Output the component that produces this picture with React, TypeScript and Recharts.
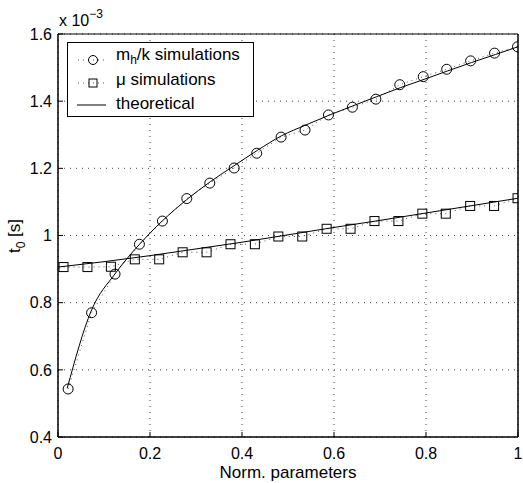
import React from 'react';
import { ComposedChart, Line, XAxis, YAxis, CartesianGrid, ReferenceArea } from 'recharts';

// values in units of 1e-3 s
const mhkX = [0.022, 0.073, 0.124, 0.177, 0.227, 0.28, 0.33, 0.383, 0.432, 0.485, 0.537, 0.588, 0.64, 0.691, 0.743, 0.794, 0.845, 0.897, 0.949, 0.999];
const mhkSim = [0.543, 0.77, 0.885, 0.974, 1.043, 1.11, 1.156, 1.201, 1.245, 1.293, 1.314, 1.359, 1.382, 1.406, 1.449, 1.473, 1.495, 1.52, 1.543, 1.562];
const mhkTheoX = [0.02, 0.072, 0.124, 0.176, 0.228, 0.28, 0.331, 0.383, 0.434, 0.486, 0.537, 0.589, 0.641, 0.692, 0.744, 0.796, 0.847, 0.899, 0.951, 1.0];
const mhkTheo = [0.545, 0.775, 0.886, 0.972, 1.045, 1.107, 1.16, 1.208, 1.254, 1.297, 1.328, 1.358, 1.386, 1.413, 1.44, 1.465, 1.49, 1.515, 1.539, 1.562];

const muX = [0.012, 0.064, 0.115, 0.167, 0.22, 0.271, 0.323, 0.375, 0.428, 0.479, 0.531, 0.584, 0.636, 0.688, 0.74, 0.792, 0.843, 0.896, 0.948, 0.999];
const muSim = [0.906, 0.906, 0.907, 0.929, 0.929, 0.95, 0.95, 0.974, 0.974, 0.997, 0.997, 1.02, 1.02, 1.043, 1.043, 1.065, 1.065, 1.088, 1.088, 1.111];
const muTheoX = [0, 0.1, 0.2, 0.3, 0.4, 0.5, 0.6, 0.7, 0.8, 0.9, 1.0];
const muTheo = [0.906, 0.922, 0.94, 0.96, 0.98, 1.002, 1.024, 1.045, 1.067, 1.089, 1.111];

const xTicks = [0, 0.2, 0.4, 0.6, 0.8, 1];
const yTicks = [0.4, 0.6, 0.8, 1, 1.2, 1.4, 1.6];

const zip = (xs: number[], ys: number[]) => xs.map((x, i) => ({ x, y: ys[i] }));
const mhkSimData = zip(mhkX, mhkSim);
const mhkTheoData = zip(mhkTheoX, mhkTheo);
const muSimData = zip(muX, muSim);
const muTheoData = zip(muTheoX, muTheo);

const FONT = '"Liberation Sans", Arial, sans-serif';

const CircleDot = (p: any) => (
  <circle key={`c${p.index}`} cx={p.cx} cy={p.cy} r={5} fill="none" stroke="#000" strokeWidth={1} />
);
const SquareDot = (p: any) => (
  <rect key={`s${p.index}`} x={p.cx - 4.5} y={p.cy - 4.5} width={9} height={9} fill="none" stroke="#000" strokeWidth={1} />
);

export default function App() {
  const tickStyle = { fill: '#000', fontSize: 16, fontFamily: FONT };
  const rowStyle: React.CSSProperties = { position: 'absolute', left: 48, whiteSpace: 'nowrap', lineHeight: '20px' };
  return (
    <div style={{ position: 'absolute', left: 0, top: 0, width: 523, height: 483, background: '#fff', fontFamily: FONT }}>
      <ComposedChart width={523} height={483} margin={{ top: 34, right: 0, bottom: 0, left: 0 }}>
        <CartesianGrid stroke="#444" strokeDasharray="1 5" />
        <XAxis xAxisId={0} type="number" dataKey="x" domain={[0, 1]} ticks={xTicks} allowDataOverflow
          height={46} stroke="#000" tick={tickStyle} tickSize={-5} tickMargin={16}
          label={{ value: 'Norm. parameters', position: 'insideBottom', offset: 5, fill: '#000', fontSize: 17, fontFamily: FONT }} />
        <XAxis xAxisId="top" orientation="top" type="number" dataKey="x" domain={[0, 1]} ticks={xTicks} allowDataOverflow
          height={0} stroke="#000" tick={false} tickSize={-5} />
        <YAxis yAxisId={0} type="number" domain={[0.4, 1.6]} ticks={yTicks} allowDataOverflow
          width={58} stroke="#000" tick={tickStyle} tickSize={-5} tickMargin={11} />
        <YAxis yAxisId="right" orientation="right" type="number" domain={[0.4, 1.6]} ticks={yTicks} allowDataOverflow
          width={5} stroke="#000" tick={false} tickSize={-5} />
        <ReferenceArea x1={0} x2={1} y1={0.4} y2={1.6} fill="none" stroke="#000" strokeWidth={1} ifOverflow="extendDomain" />
        <Line data={mhkSimData} dataKey="y" stroke="#555" strokeDasharray="1 4" strokeWidth={1} dot={CircleDot} isAnimationActive={false} type="linear" />
        <Line data={muSimData} dataKey="y" stroke="#555" strokeDasharray="1 4" strokeWidth={1} dot={SquareDot} isAnimationActive={false} type="linear" />
        <Line data={mhkTheoData} dataKey="y" stroke="#000" strokeWidth={1} dot={false} isAnimationActive={false} type="monotone" />
        <Line data={muTheoData} dataKey="y" stroke="#000" strokeWidth={1} dot={false} isAnimationActive={false} type="monotone" />
      </ComposedChart>
      <div style={{ position: 'absolute', left: 16, top: 236, transform: 'translate(-50%, -50%) rotate(-90deg)', fontSize: 17, color: '#000', whiteSpace: 'nowrap', lineHeight: '20px' }}>
        t<sub style={{ fontSize: 12, lineHeight: 1 }}>0</sub> [s]
      </div>
      <div style={{ position: 'absolute', left: 59, top: 10, fontSize: 16, color: '#000', whiteSpace: 'nowrap', lineHeight: '20px' }}>
        x 10<sup style={{ fontSize: 12, lineHeight: 1, position: 'relative', top: -2 }}>−3</sup>
      </div>
      <div style={{ position: 'absolute', left: 67, top: 42, width: 187, height: 75, boxSizing: 'border-box', border: '1px solid #000', background: '#fff', fontSize: 17, color: '#000' }}>
        <svg width={45} height={73} style={{ position: 'absolute', left: 0, top: 0 }}>
          <line x1={10} x2={38} y1={17} y2={17} stroke="#555" strokeDasharray="1 4" />
          <circle cx={25} cy={17} r={4.5} fill="none" stroke="#000" />
          <line x1={10} x2={38} y1={40} y2={40} stroke="#555" strokeDasharray="1 4" />
          <rect x={21} y={36} width={8} height={8} fill="none" stroke="#000" />
          <line x1={9} x2={38} y1={62} y2={62} stroke="#000" />
        </svg>
        <div style={{ ...rowStyle, top: 2 }}>m<sub style={{ fontSize: 12, lineHeight: 1 }}>h</sub>/k simulations</div>
        <div style={{ ...rowStyle, top: 27 }}>μ simulations</div>
        <div style={{ ...rowStyle, top: 51 }}>theoretical</div>
      </div>
    </div>
  );
}
